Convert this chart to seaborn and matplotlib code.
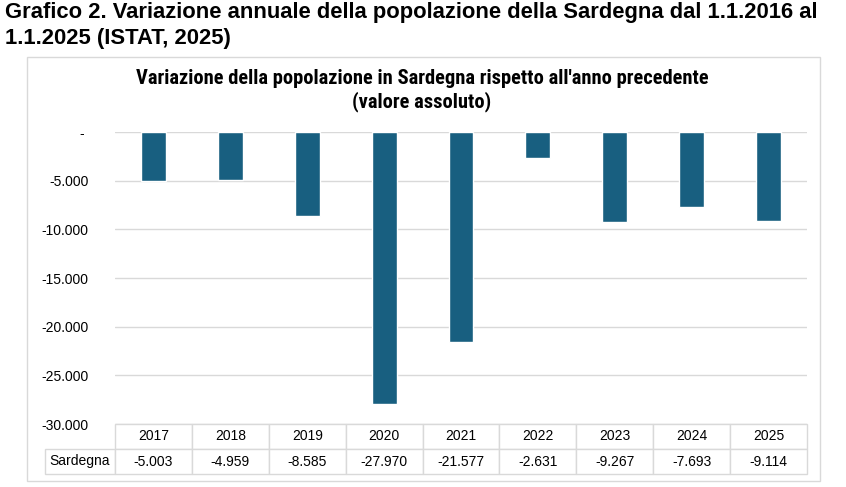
import matplotlib
matplotlib.use("Agg")
import matplotlib.pyplot as plt
import seaborn as sns
import pandas as pd
from matplotlib.patches import Rectangle
from matplotlib import font_manager as fm

years = ["2017", "2018", "2019", "2020", "2021", "2022", "2023", "2024", "2025"]
values = [-5003, -4959, -8585, -27970, -21577, -2631, -9267, -7693, -9114]
series_name = "Sardegna"
y_ticks = [0, -5000, -10000, -15000, -20000, -25000, -30000]

caption_l1 = "Grafico 2. Variazione annuale della popolazione della Sardegna dal 1.1.2016 al"
caption_l2 = "1.1.2025 (ISTAT, 2025)"
inner_l1 = "Variazione della popolazione in Sardegna rispetto all'anno precedente"
inner_l2 = "(valore assoluto)"


def fmt(v):
    if v == 0:
        return "- "
    return f"{v:,}".replace(",", ".")


def find_condensed():
    cands = []
    for f in fm.fontManager.ttflist:
        nm = f.name.lower()
        fn = f.fname.lower()
        st = str(f.stretch).lower()
        condensed = ("narrow" in nm or "condensed" in nm or "condensed" in fn
                     or "narrow" in fn or st in ("condensed", "semi-condensed", "extra-condensed"))
        if not condensed:
            continue
        w = f.weight
        try:
            w = int(w)
        except Exception:
            w = 700 if "bold" in str(w).lower() else 400
        if w >= 600:
            cands.append((f.name, f.stretch, f.fname))
    pref = ["liberation sans narrow", "roboto condensed", "open sans condensed",
            "noto sans", "dejavu sans", "roboto", "open sans"]
    for p in pref:
        for c in cands:
            if c[0].lower() == p:
                return c
    return cands[0] if cands else None


sns.set_theme(style="white")
plt.rcParams["font.family"] = ["Liberation Sans", "DejaVu Sans"]

df = pd.DataFrame({"anno": years, "valore": values})

W, H = 846, 487
fig = plt.figure(figsize=(W / 100, H / 100), dpi=100)
ax = fig.add_axes([115 / W, 1 - 424 / H, (807 - 115) / W, (424 - 132) / H])

bar_color = "#185F80"
sns.barplot(data=df, x="anno", y="valore", color=bar_color, width=0.325,
            saturation=1, ax=ax, zorder=3)

ax.set_ylim(-30000, 0)
ax.set_yticks(y_ticks)
ax.set_yticklabels([fmt(v) for v in y_ticks], fontsize=10, color="#000000")
ax.tick_params(axis="y", length=0, pad=19)
ax.set_xticks([])
ax.set_xlabel("")
ax.set_ylabel("")
ax.grid(axis="y", color="#D9D9D9", linewidth=1, zorder=0)
ax.grid(axis="x", visible=False)
for s in ax.spines.values():
    s.set_visible(False)

# data table below axes (bbox covers the data columns; row label sits to the left)
row_w = 70 / 692
tab_h = 50 / 292
tbl = ax.table(cellText=[[fmt(v) for v in values]], colLabels=years,
               cellLoc="center", colWidths=[1 / 9] * 9,
               bbox=[0, -tab_h, 1, tab_h])
h_cell = tbl[1, 0].get_height()
tbl.add_cell(1, -1, width=row_w, height=h_cell, text=series_name, loc="center")
tbl.auto_set_font_size(False)
for (r, c), cell in tbl.get_celld().items():
    cell.set_edgecolor("#D9D9D9")
    cell.set_linewidth(1)
    cell.get_text().set_fontsize(10)
    cell.get_text().set_color("#000000")

# chart border
fig.patches.append(Rectangle((27 / W, 1 - 481 / H), (820 - 27) / W, (481 - 57) / H,
                             transform=fig.transFigure, fill=False,
                             edgecolor="#D9D9D9", linewidth=1))

# inner chart title (condensed bold if available)
cf = find_condensed()
if cf is not None:
    fam = [cf[0], "Liberation Sans", "DejaVu Sans"]
    stretch = cf[1]
else:
    fam = ["Roboto", "Liberation Sans", "DejaVu Sans"]
    stretch = "normal"

t1 = fig.text(422 / W, 1 - 84 / H, inner_l1, ha="center", va="baseline",
              fontsize=12.5, fontweight="bold", family=fam, fontstretch=stretch,
              color="#000000")
t2 = fig.text(422 / W, 1 - 107 / H, inner_l2, ha="center", va="baseline",
              fontsize=12.5, fontweight="bold", family=fam, fontstretch=stretch,
              color="#000000")
fig.canvas.draw()
r = fig.canvas.get_renderer()
wpx = t1.get_window_extent(r).width
if wpx > 0:
    fs = 12.5 * 574 / wpx
    fs = max(min(fs, 15.5), 10)
    t1.set_fontsize(fs)
    t2.set_fontsize(fs)

# document caption
fig.text(5 / W, 1 - 18 / H, caption_l1, ha="left", va="baseline",
         fontsize=15.8, fontweight="bold", color="#000000")
fig.text(5 / W, 1 - 44 / H, caption_l2, ha="left", va="baseline",
         fontsize=15.8, fontweight="bold", color="#000000")

fig.savefig("out.png", dpi=100)
